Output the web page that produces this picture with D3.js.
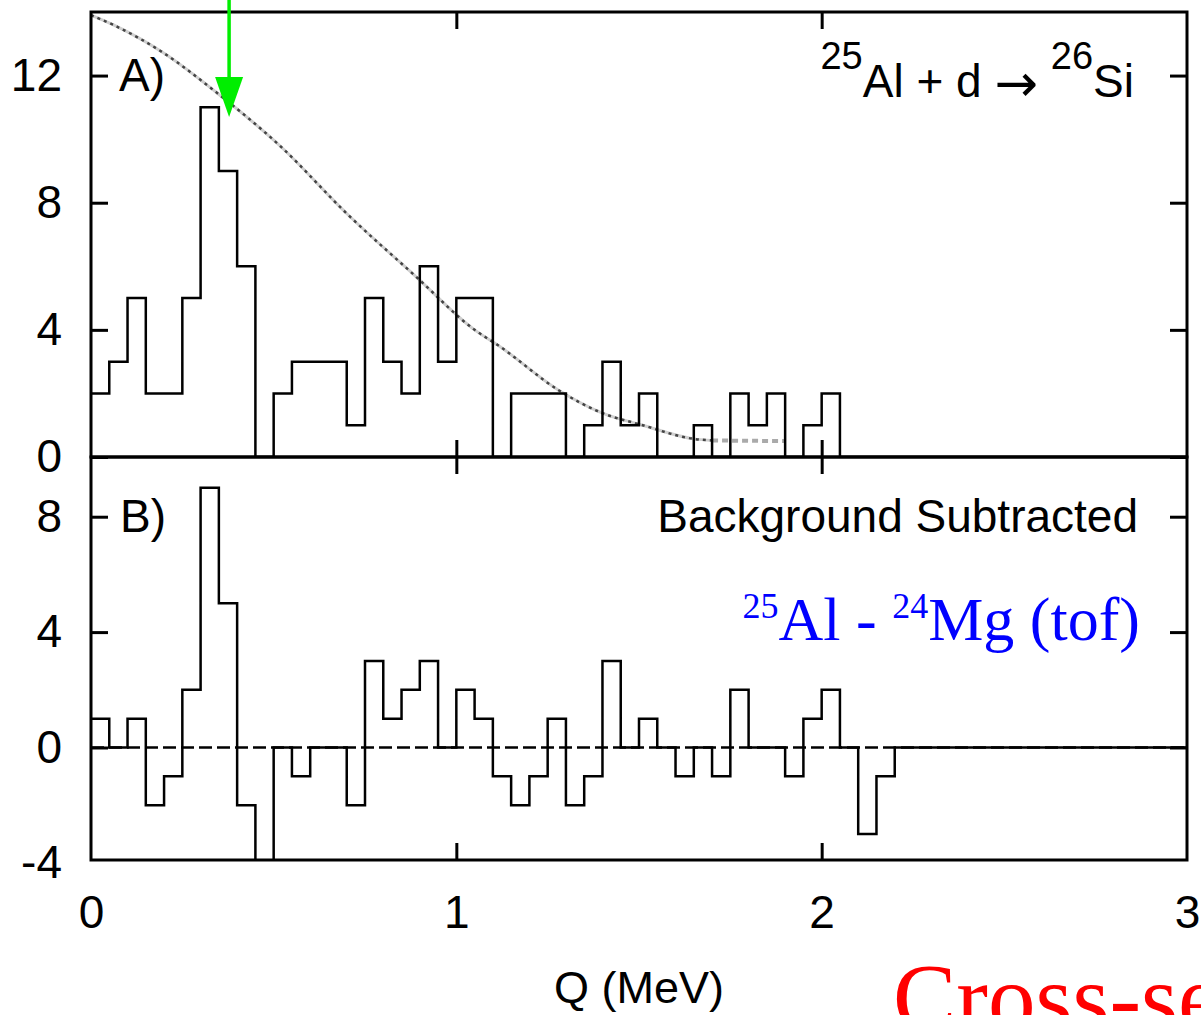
<!DOCTYPE html>
<html>
<head>
<meta charset="utf-8">
<script src="https://cdn.jsdelivr.net/npm/d3@7"></script>
<style>
  body { margin: 0; background: #fff; }
  svg { display: block; }
</style>
</head>
<body>
<div id="chart"></div>
<script>
// Q bin edges (MeV)
const binEdges = [0, 0.05, 0.1, 0.15, 0.2, 0.25, 0.3, 0.35, 0.4, 0.45,
  0.5, 0.55, 0.6, 0.65, 0.7, 0.75, 0.8, 0.85, 0.9, 0.95,
  1.0, 1.05, 1.1, 1.15, 1.2, 1.25, 1.3, 1.35, 1.4, 1.45,
  1.5, 1.55, 1.6, 1.65, 1.7, 1.75, 1.8, 1.85, 1.9, 1.95,
  2.0, 2.05, 2.1, 2.15, 2.2];

// A) 25Al + d -> 26Si counts
const countsA = [2, 3, 5, 2, 2, 5, 11, 9, 6, 0,
  2, 3, 3, 3, 1, 5, 3, 2, 6, 3,
  5, 5, 0, 2, 2, 2, 0, 1, 3, 1,
  2, 0, 0, 1, 0, 2, 1, 2, 0, 1,
  2];

// B) background subtracted counts
const countsB = [1, 0, 1, -2, -1, 2, 9, 5, -2, -4,
  0, -1, 0, 0, -2, 3, 1, 2, 3, 0,
  2, 1, -1, -2, -1, 1, -2, -1, 3, 0,
  1, 0, -1, 0, -1, 2, 0, 0, -1, 1,
  2, 0, -3, -1];

// background curve in panel A
const curveQ = [0, 0.06, 0.2, 0.34, 0.52, 0.7, 0.89, 1.05, 1.12, 1.28, 1.4, 1.51, 1.65, 1.7];
const curveVal = [13.9, 13.6, 12.7, 11.5, 9.76, 7.66, 5.67, 4.0, 3.47, 2.1, 1.38, 1.0, 0.57, 0.52];
const tailQ = [1.7, 1.9];
const tailVal = [0.52, 0.5];

const arrowQ = 0.378, arrowVal = 10.7;

const xTicks = [0, 1, 2, 3];
const yTicksA = [0, 4, 8, 12];
const yTicksB = [-4, 0, 4, 8];

const W = 1201, H = 1015;
const pLeft = 91, pRight = 1187, pTop = 12, pMid = 457, pBottom = 860;
const tickLen = 17;
const sans = "'Liberation Sans', Arial, sans-serif";
const serif = "'Liberation Serif', 'Times New Roman', serif";

const svg = d3.select("#chart").append("svg")
  .attr("width", W).attr("height", H)
  .style("background", "#fff");

const x = d3.scaleLinear().domain([0, 3]).range([pLeft, pRight]);
const yA = d3.scaleLinear().domain([0, 14]).range([pMid, pTop]);
const yB = d3.scaleLinear().domain([-3.9, 10.07]).range([pBottom, pMid]);

// clip each panel
const defs = svg.append("defs");
defs.append("clipPath").attr("id", "clipA").append("rect")
  .attr("x", pLeft).attr("y", pTop).attr("width", pRight - pLeft).attr("height", pMid - pTop);
defs.append("clipPath").attr("id", "clipB").append("rect")
  .attr("x", pLeft).attr("y", pMid).attr("width", pRight - pLeft).attr("height", pBottom - pMid);

function histPoints(counts) {
  const pts = counts.map((c, i) => [binEdges[i], c]);
  pts.push([binEdges[counts.length], 0], [3, 0]);
  return pts;
}

// ---- panel A ----
const gA = svg.append("g").attr("clip-path", "url(#clipA)");

const curveLine = d3.line()
  .x(d => x(d[0])).y(d => yA(d[1]))
  .curve(d3.curveMonotoneX);
const curvePts = curveQ.map((q, i) => [q, curveVal[i]]);
gA.append("path")
  .attr("d", curveLine(curvePts))
  .attr("fill", "none").attr("stroke", "#d0d0d0").attr("stroke-width", 3);
gA.append("path")
  .attr("d", curveLine(curvePts))
  .attr("fill", "none").attr("stroke", "#444").attr("stroke-width", 2.5)
  .attr("stroke-dasharray", "3,4");
gA.append("path")
  .attr("d", curveLine(tailQ.map((q, i) => [q, tailVal[i]])))
  .attr("fill", "none").attr("stroke", "#aaa").attr("stroke-width", 4)
  .attr("stroke-dasharray", "6,4");

const stepA = d3.line().x(d => x(d[0])).y(d => yA(d[1])).curve(d3.curveStepAfter);
gA.append("path")
  .attr("d", stepA(histPoints(countsA)))
  .attr("fill", "none").attr("stroke", "#000").attr("stroke-width", 2.5);

// ---- panel B ----
const gB = svg.append("g").attr("clip-path", "url(#clipB)");
gB.append("line")
  .attr("x1", x(0)).attr("x2", x(3)).attr("y1", yB(0)).attr("y2", yB(0))
  .attr("stroke", "#000").attr("stroke-width", 2.5)
  .attr("stroke-dasharray", "13,5");
const stepB = d3.line().x(d => x(d[0])).y(d => yB(d[1])).curve(d3.curveStepAfter);
gB.append("path")
  .attr("d", stepB(histPoints(countsB)))
  .attr("fill", "none").attr("stroke", "#000").attr("stroke-width", 2.5);

// ---- axes ----
function styleAxis(g, labels) {
  g.select(".domain").remove();
  g.selectAll(".tick line").attr("stroke", "#000").attr("stroke-width", 3);
  g.selectAll(".tick text")
    .attr("fill", labels ? "#000" : "none")
    .style("font-family", sans).style("font-size", "46px");
}

function yAxes(y, ticks) {
  const [lo, hi] = y.domain();
  svg.append("g").attr("transform", `translate(${pLeft},0)`)
    .call(d3.axisLeft(y).tickValues(ticks).tickSize(-tickLen).tickPadding(29).tickFormat(d => String(d)))
    .call(g => styleAxis(g, true))
    .call(g => g.selectAll(".tick line").filter(d => d < lo || d > hi).remove());
  svg.append("g").attr("transform", `translate(${pRight},0)`)
    .call(d3.axisRight(y).tickValues(ticks.filter(d => d >= lo && d <= hi)).tickSize(-tickLen).tickFormat(""))
    .call(g => styleAxis(g, false));
}
yAxes(yA, yTicksA);
yAxes(yB, yTicksB);

const innerX = xTicks.filter(d => d > 0 && d < 3);
svg.append("g").attr("transform", `translate(0,${pTop})`)
  .call(d3.axisTop(x).tickValues(innerX).tickSize(-tickLen).tickFormat(""))
  .call(g => styleAxis(g, false));
svg.append("g").attr("transform", `translate(0,${pMid})`)
  .call(d3.axisBottom(x).tickValues(innerX).tickSize(-tickLen).tickFormat(""))
  .call(g => styleAxis(g, false));
svg.append("g").attr("transform", `translate(0,${pMid})`)
  .call(d3.axisTop(x).tickValues(innerX).tickSize(-tickLen).tickFormat(""))
  .call(g => styleAxis(g, false));
svg.append("g").attr("transform", `translate(0,${pBottom})`)
  .call(d3.axisBottom(x).tickValues(xTicks).tickSize(-tickLen).tickPadding(35).tickFormat(d3.format("d")))
  .call(g => styleAxis(g, true))
  .call(g => g.selectAll(".tick line").filter(d => d === 0 || d === 3).remove());

// frames
[[pTop, pMid], [pMid, pBottom]].forEach(([t, b]) => {
  svg.append("rect")
    .attr("x", pLeft).attr("y", t).attr("width", pRight - pLeft).attr("height", b - t)
    .attr("fill", "none").attr("stroke", "#000").attr("stroke-width", 3);
});

// arrow
const ax = x(arrowQ), ay = yA(arrowVal);
svg.append("line")
  .attr("x1", ax).attr("x2", ax).attr("y1", 0).attr("y2", ay - 38)
  .attr("stroke", "#00ee00").attr("stroke-width", 3.5);
svg.append("path")
  .attr("d", `M${ax - 14},${ay - 40}L${ax + 14},${ay - 40}L${ax},${ay}Z`)
  .attr("fill", "#00ee00");

// labels
function label(xp, yp, txt, anchor) {
  return svg.append("text").attr("x", xp).attr("y", yp)
    .attr("text-anchor", anchor || "start")
    .style("font-family", sans).style("font-size", "46px").text(txt);
}
label(119, 91, "A)");
label(120, 532, "B)");
label(1138, 532, "Background Subtracted", "end");
label(x(1.5), 1003, "Q (MeV)", "middle").style("font-size", "45px");

const react = svg.append("text").attr("x", 1134).attr("y", 97)
  .attr("text-anchor", "end")
  .style("font-family", sans).style("font-size", "46px");
react.append("tspan").attr("dy", -28).style("font-size", "38px").text("25");
react.append("tspan").attr("dy", 28).text("Al + d ");
react.append("tspan").attr("dy", 4)
  .style("font-family", "'DejaVu Sans', sans-serif").style("font-size", "52px").text("\u2192");
react.append("tspan").attr("dy", -4).text(" ");
react.append("tspan").attr("dy", -28).style("font-size", "38px").text("26");
react.append("tspan").attr("dy", 28).text("Si");

const tof = svg.append("text").attr("x", 1140).attr("y", 640)
  .attr("text-anchor", "end").attr("fill", "#0000ff")
  .style("font-family", serif).style("font-size", "62px");
tof.append("tspan").attr("dy", -22).style("font-size", "36px").text("25");
tof.append("tspan").attr("dy", 22).text("Al - ");
tof.append("tspan").attr("dy", -22).style("font-size", "36px").text("24");
tof.append("tspan").attr("dy", 22).text("Mg (tof)");

svg.append("text").attr("x", 893).attr("y", 1030)
  .attr("fill", "#ff0000")
  .style("font-family", serif).style("font-size", "95px")
  .text("Cross-section");
</script>
</body>
</html>
